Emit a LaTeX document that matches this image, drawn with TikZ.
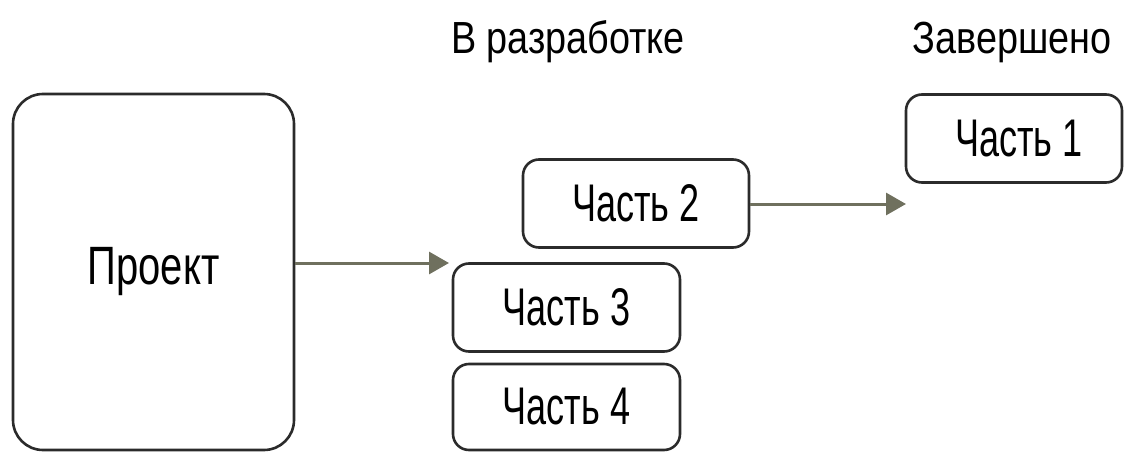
\documentclass[tikz,border=0pt]{standalone}
\usepackage{fontspec}
\setmainfont{Liberation Sans}[FakeStretch=0.74]
\newfontfamily\partfont{Liberation Sans}[FakeStretch=0.68]
\newfontfamily\headfont{Liberation Sans}[FakeStretch=0.84]
\usetikzlibrary{arrows.meta}
\definecolor{boxline}{HTML}{2B2B2B}
\definecolor{arrowcol}{HTML}{6F705E}
\tikzset{
  part/.style={draw=boxline, line width=2.6pt, rounded corners=16pt, fill=white,
    minimum width=226pt, minimum height=88pt, inner sep=0pt,
    font=\partfont\fontsize{53}{56}\selectfont},
  bigbox/.style={draw=boxline, line width=2.6pt, rounded corners=30pt,
    minimum width=281pt, minimum height=356pt, inner sep=0pt,
    font=\fontsize{54}{56}\selectfont},
  head/.style={inner sep=0pt, font=\headfont\fontsize{45}{50}\selectfont},
  conn/.style={draw=arrowcol, line width=3pt, -{Triangle[length=20pt,width=22pt]}}
}
\begin{document}
\begin{tikzpicture}[x=1pt,y=-1pt]
\useasboundingbox (0,0) rectangle (1125,452);
\node[bigbox] (proj) at (153.5,272) {Проект};
\node[part] (p2) at (636,203.5) {Часть 2};
\node[part, minimum width=227pt] (p3) at (566.5,307.5) {Часть 3};
\node[part, minimum width=227pt, minimum height=86pt] (p4) at (566.5,407) {Часть 4};
\node[part, minimum width=216pt] (p1) at (1014,138.5) {\hspace*{10pt}Часть 1};
\node[head] (hdev) at (568,42) {В разработке};
\node[head] (hdone) at (1012,42) {Завершено};
\coordinate (t1) at (449,263);
\coordinate (t2) at (906,204);
\draw[conn] (proj.east |- t1) -- (t1);
\draw[conn] (p2.east |- t2) -- (t2);
\end{tikzpicture}
\end{document}
